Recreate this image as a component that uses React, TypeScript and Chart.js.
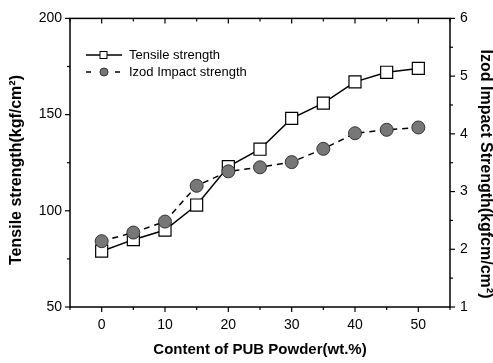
import React, { useEffect, useRef } from "react";
import { Chart, registerables } from "chart.js";

Chart.register(...registerables);

const contents = [0, 5, 10, 15, 20, 25, 30, 35, 40, 45, 50];
const tensileStrength = [79, 85, 90, 103, 123, 132, 148, 156, 167, 172, 174];
const impactStrength = [2.14, 2.29, 2.48, 3.1, 3.35, 3.42, 3.51, 3.74, 4.01, 4.07, 4.11];
const xTicks = [0, 10, 20, 30, 40, 50];
const xMinorTicks = [-5, 5, 15, 25, 35, 45, 55];
const yTicks = [50, 100, 150, 200];
const yMinorTicks = [75, 125, 175];
const y1Ticks = [1, 2, 3, 4, 5, 6];
const y1MinorTicks = [1.5, 2.5, 3.5, 4.5, 5.5];
const seriesNames = ["Tensile strength", "Izod Impact strength"];
const xTitle = "Content of PUB Powder(wt.%)";
const yTitle = "Tensile strength(kgf/cm\u00B2)";
const y1Title = "Izod Impact Strength(kgfcm/cm\u00B2)";

const FONT = "'Liberation Sans', Arial, sans-serif";
const CIRCLE_FILL = "#777777";
const CIRCLE_BORDER = "#333333";

const decorPlugin = {
  id: "decor",
  afterDraw(chart: any) {
    const ctx = chart.ctx;
    const { left, right, top, bottom } = chart.chartArea;
    const xs = chart.scales.x;
    const ys = chart.scales.y;
    const y1s = chart.scales.y1;
    ctx.save();
    ctx.strokeStyle = "#000";
    ctx.lineWidth = 1.5;
    ctx.setLineDash([]);
    ctx.strokeRect(left, top, right - left, bottom - top);
    ctx.lineWidth = 1.2;
    const tick = (x1: number, y1: number, x2: number, y2: number) => {
      ctx.beginPath();
      ctx.moveTo(x1, y1);
      ctx.lineTo(x2, y2);
      ctx.stroke();
    };
    xTicks.forEach((v) => {
      const px = xs.getPixelForValue(v);
      tick(px, bottom, px, bottom + 5);
      tick(px, top, px, top + 5);
    });
    xMinorTicks.forEach((v) => {
      const px = xs.getPixelForValue(v);
      tick(px, bottom, px, bottom + 3);
      tick(px, top, px, top + 3);
    });
    yTicks.forEach((v) => {
      const py = ys.getPixelForValue(v);
      tick(left, py, left - 5, py);
    });
    yMinorTicks.forEach((v) => {
      const py = ys.getPixelForValue(v);
      tick(left, py, left - 3, py);
    });
    y1Ticks.forEach((v) => {
      const py = y1s.getPixelForValue(v);
      tick(right, py, right + 5, py);
    });
    y1MinorTicks.forEach((v) => {
      const py = y1s.getPixelForValue(v);
      tick(right, py, right + 3, py);
    });

    // axis titles (vertical)
    ctx.fillStyle = "#000";
    ctx.font = `bold 16px ${FONT}`;
    ctx.textAlign = "center";
    ctx.textBaseline = "middle";
    ctx.save();
    ctx.translate(17, 170);
    ctx.rotate(-Math.PI / 2);
    ctx.fillText(yTitle, 0, 0);
    ctx.restore();
    ctx.save();
    ctx.translate(485, 174);
    ctx.rotate(Math.PI / 2);
    ctx.fillText(y1Title, 0, 0);
    ctx.restore();

    // legend
    const ds = chart.data.datasets;
    const rows = [55, 72];
    ctx.font = `13px ${FONT}`;
    ctx.textAlign = "left";
    ctx.textBaseline = "middle";
    ctx.lineWidth = 1.5;
    ctx.strokeStyle = ds[0].borderColor;
    tick(86, rows[0], 122, rows[0]);
    ctx.fillStyle = "#fff";
    ctx.lineWidth = 1;
    ctx.fillRect(100, rows[0] - 3.5, 7, 7);
    ctx.strokeRect(100, rows[0] - 3.5, 7, 7);
    ctx.fillStyle = "#000";
    ctx.fillText(ds[0].label, 129, rows[0]);
    ctx.lineWidth = 1.5;
    ctx.strokeStyle = ds[1].borderColor;
    tick(86, rows[1], 91, rows[1]);
    tick(115, rows[1], 120, rows[1]);
    ctx.beginPath();
    ctx.arc(104, rows[1], 4, 0, Math.PI * 2);
    ctx.fillStyle = ds[1].pointBackgroundColor;
    ctx.fill();
    ctx.lineWidth = 1;
    ctx.strokeStyle = ds[1].pointBorderColor;
    ctx.stroke();
    ctx.fillStyle = "#000";
    ctx.fillText(ds[1].label, 129, rows[1]);
    ctx.restore();
  },
};

export default function App() {
  const canvasRef = useRef<HTMLCanvasElement | null>(null);

  useEffect(() => {
    const canvas = canvasRef.current;
    if (!canvas) return;
    const chart = new Chart(canvas, {
      type: "line",
      data: {
        datasets: [
          {
            label: seriesNames[0],
            data: contents.map((x, i) => ({ x, y: tensileStrength[i] })),
            yAxisID: "y",
            borderColor: "#000",
            borderWidth: 1.5,
            pointStyle: "rect",
            pointRadius: 8.5,
            pointBackgroundColor: "#fff",
            pointBorderColor: "#000",
            pointBorderWidth: 1.2,
            tension: 0,
            order: 1,
          },
          {
            label: seriesNames[1],
            data: contents.map((x, i) => ({ x, y: impactStrength[i] })),
            yAxisID: "y1",
            borderColor: "#000",
            borderWidth: 1.5,
            borderDash: [6, 5],
            pointStyle: "circle",
            pointRadius: 6.5,
            pointBackgroundColor: CIRCLE_FILL,
            pointBorderColor: CIRCLE_BORDER,
            pointBorderWidth: 1,
            tension: 0,
            order: 0,
          },
        ],
      },
      options: {
        responsive: false,
        animation: false,
        layout: { padding: { top: 14, left: 0, right: 0, bottom: 0 } },
        plugins: {
          legend: { display: false },
          tooltip: { enabled: false },
        },
        scales: {
          x: {
            type: "linear",
            min: -5,
            max: 55,
            grid: { display: false, drawTicks: false },
            border: { display: false },
            afterBuildTicks: (s: any) => {
              s.ticks = xTicks.map((v) => ({ value: v }));
            },
            afterFit: (s: any) => {
              s.height = 56;
            },
            ticks: {
              color: "#000",
              padding: 10,
              font: { family: FONT, size: 14 },
              maxRotation: 0,
            },
            title: {
              display: true,
              text: xTitle,
              color: "#000",
              font: { family: FONT, size: 15, weight: "bold" },
              padding: { top: 0, bottom: 4 },
            },
          },
          y: {
            type: "linear",
            position: "left",
            min: 50,
            max: 200,
            grid: { display: false, drawTicks: false },
            border: { display: false },
            afterBuildTicks: (s: any) => {
              s.ticks = yTicks.map((v) => ({ value: v }));
            },
            afterFit: (s: any) => {
              s.width = 70;
            },
            ticks: {
              color: "#000",
              padding: 8,
              font: { family: FONT, size: 14 },
            },
          },
          y1: {
            type: "linear",
            position: "right",
            min: 1,
            max: 6,
            grid: { display: false, drawTicks: false },
            border: { display: false },
            afterBuildTicks: (s: any) => {
              s.ticks = y1Ticks.map((v) => ({ value: v }));
            },
            afterFit: (s: any) => {
              s.width = 43;
            },
            ticks: {
              color: "#000",
              padding: 10,
              font: { family: FONT, size: 14 },
            },
          },
        },
      },
      plugins: [decorPlugin],
    });
    return () => chart.destroy();
  }, []);

  return (
    <div style={{ position: "absolute", left: 0, top: 0, width: 493, height: 363, background: "#fff" }}>
      <canvas ref={canvasRef} width={493} height={363} />
    </div>
  );
}
